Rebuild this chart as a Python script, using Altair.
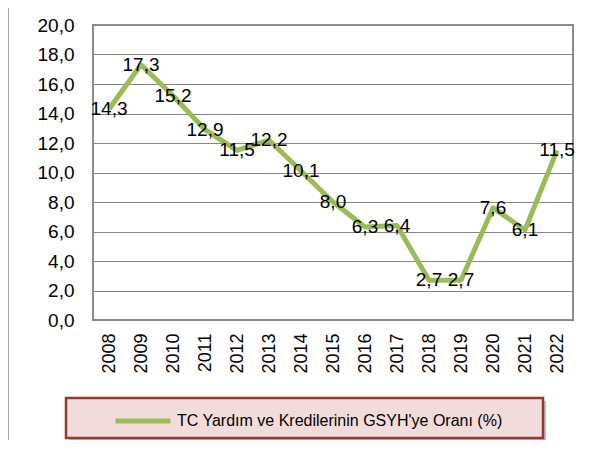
import altair as alt
import pandas as pd

years = ["2008", "2009", "2010", "2011", "2012", "2013", "2014", "2015",
         "2016", "2017", "2018", "2019", "2020", "2021", "2022"]
values = [14.3, 17.3, 15.2, 12.9, 11.5, 12.2, 10.1, 8.0, 6.3, 6.4, 2.7, 2.7, 7.6, 6.1, 11.5]
series_name = "TC Yardım ve Kredilerinin GSYH'ye Oranı (%)"
y_ticks = [0, 2, 4, 6, 8, 10, 12, 14, 16, 18, 20]

LINE_COLOR = "#9BBB59"
FONT = "Liberation Sans"

df = pd.DataFrame({"year": years, "value": values, "series": [series_name] * len(years)})
one = pd.DataFrame({"k": [0]})

x_enc = alt.X("year:O", sort=years,
              scale=alt.Scale(type="point", padding=0.5),
              axis=alt.Axis(labelAngle=-90, labelFontSize=18, labelFont=FONT, ticks=False,
                            domain=False, labelPadding=13, title=None, labelColor="black",
                            grid=False, labelOverlap=False))
y_enc = alt.Y("value:Q", scale=alt.Scale(domain=[0, 20], nice=False),
              axis=alt.Axis(values=y_ticks, tickCount=len(y_ticks),
                            labelExpr="replace(format(datum.value,'.1f'),'.',',')",
                            grid=True, gridColor="#868686", gridWidth=1.2, ticks=False,
                            domain=False, labelFontSize=19, labelFont=FONT, labelPadding=19,
                            labelColor="black", title=None, labelOverlap=False))

line = alt.Chart(df).mark_line(strokeWidth=5, strokeJoin="round").encode(
    x=x_enc, y=y_enc,
    color=alt.Color("series:N",
                    scale=alt.Scale(domain=[series_name], range=[LINE_COLOR]),
                    legend=alt.Legend(orient="none", legendX=20, legendY=366, title=None,
                                      symbolType="stroke", symbolSize=3025,
                                      symbolStrokeWidth=5, labelFontSize=16, labelFont=FONT,
                                      labelColor="black", labelLimit=0, labelOffset=4,
                                      padding=0))
)

text = alt.Chart(df).transform_calculate(
    lbl="replace(format(datum.value,'.1f'),'.',',')"
).mark_text(fontSize=19, font=FONT, color="black", align="center", baseline="middle").encode(
    x=alt.X("year:O", sort=years), y="value:Q", text="lbl:N"
)

shadow = alt.Chart(one).mark_rect(color="#000000", opacity=0.25).encode(
    x=alt.value(-24), x2=alt.value(453), y=alt.value(376), y2=alt.value(416)
)
box = alt.Chart(one).mark_rect(fill="#F2DCDB", stroke="#953735", strokeWidth=2.5).encode(
    x=alt.value(-27), x2=alt.value(450), y=alt.value(373), y2=alt.value(413)
)
frame = alt.Chart(one).mark_rule(color="#A6A6A6", strokeWidth=1).encode(
    x=alt.value(-84.5), y=alt.value(-17), y2=alt.value(415)
)

chart = alt.layer(frame, shadow, box, line, text).properties(
    width=480, height=295,
    autosize=alt.AutoSizeParams(type="none"),
    padding={"left": 85, "top": 17, "right": 17, "bottom": 120},
).configure_view(stroke="#8C8C8C", strokeWidth=2)

chart.save("out.html", embed_options={"renderer": "svg", "actions": False})
